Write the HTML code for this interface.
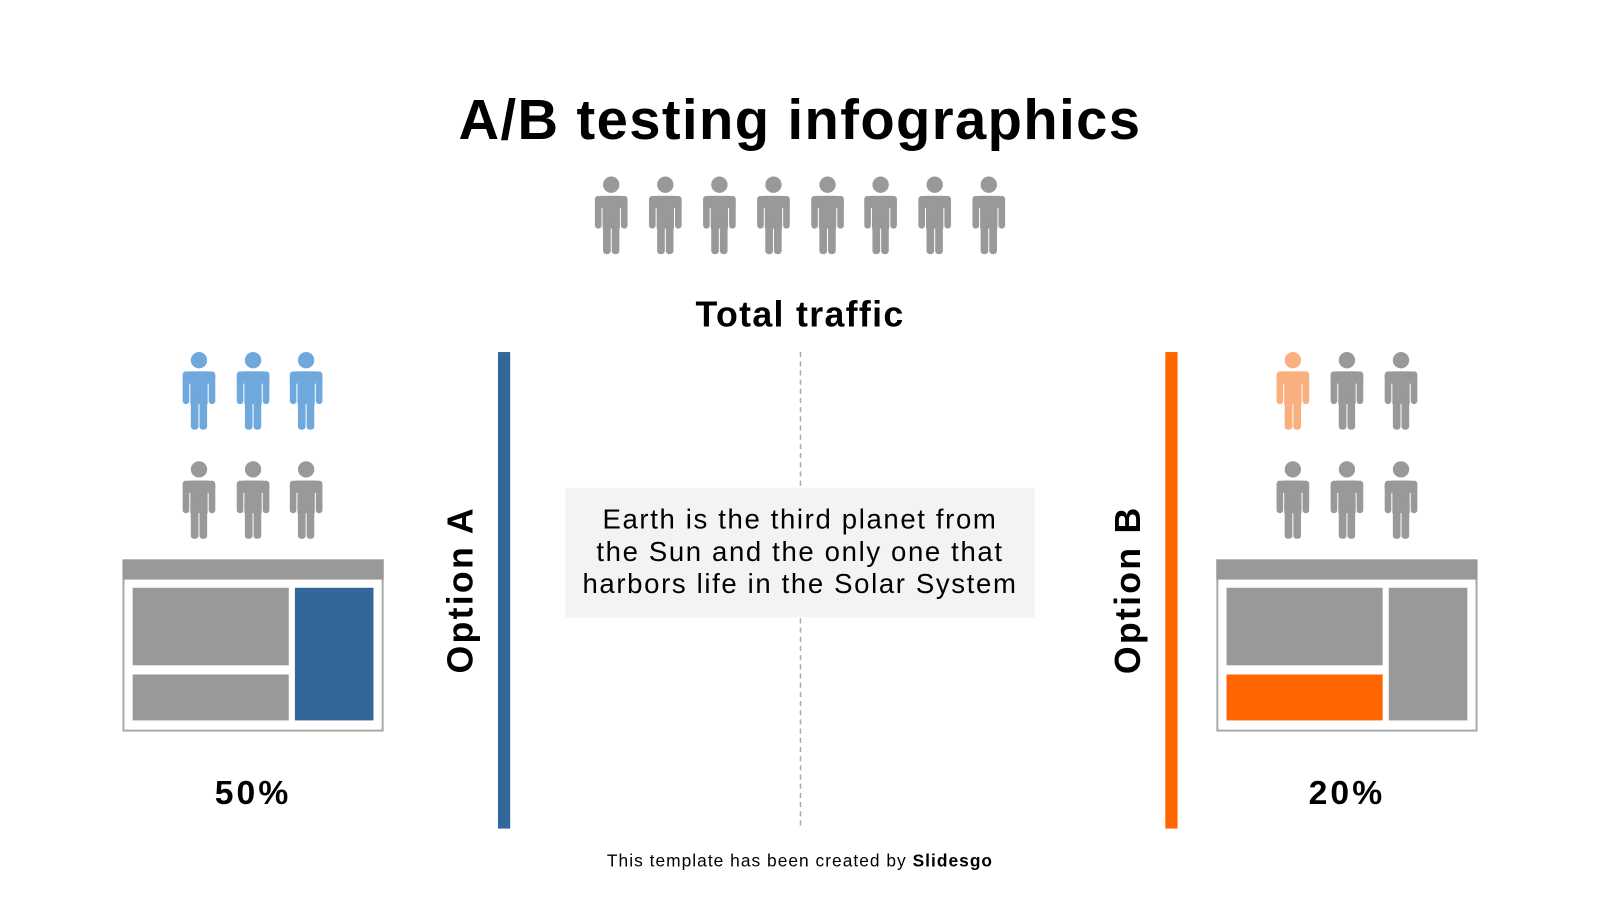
<!DOCTYPE html>
<html><head><meta charset="utf-8"><style>
body{margin:0;width:1600px;height:900px;background:#fff;position:relative;overflow:hidden;font-family:"Liberation Sans",sans-serif;color:#000}
#w{position:absolute;left:0;top:0;width:1568px;height:882px;transform:scale(1.020408);transform-origin:0 0}
.a{position:absolute}
.t{position:absolute;white-space:nowrap;text-align:center}
</style></head><body>
<svg width="0" height="0" style="position:absolute"><defs>
<g id="p"><circle cx="17" cy="8" r="8"/><rect x="1" y="19" width="32" height="12" rx="6"/><rect x="1" y="19" width="6.5" height="32" rx="3.2"/><rect x="26.5" y="19" width="6.5" height="32" rx="3.2"/><rect x="8.5" y="19" width="17" height="32"/><rect x="9" y="40" width="7.5" height="36" rx="3"/><rect x="17.5" y="40" width="7.5" height="36" rx="3"/></g>
</defs></svg>
<div id="w">
<div class="t" style="left:0;width:1568px;top:85px;font-size:55px;font-weight:bold;letter-spacing:1.4px">A/B testing infographics</div>
<svg class="a" style="left:0;top:0" width="1568" height="882">
<g fill="#999">
<use href="#p" x="582" y="173"/><use href="#p" x="635" y="173"/><use href="#p" x="688" y="173"/><use href="#p" x="741" y="173"/><use href="#p" x="794" y="173"/><use href="#p" x="846" y="173"/><use href="#p" x="899" y="173"/><use href="#p" x="952" y="173"/>
<use href="#p" x="178" y="452"/><use href="#p" x="231" y="452"/><use href="#p" x="283" y="452"/>
<use href="#p" x="1303" y="345"/><use href="#p" x="1356" y="345"/>
<use href="#p" x="1250" y="452"/><use href="#p" x="1303" y="452"/><use href="#p" x="1356" y="452"/>
</g>
<g fill="#6fa8dc"><use href="#p" x="178" y="345"/><use href="#p" x="231" y="345"/><use href="#p" x="283" y="345"/></g>
<use href="#p" x="1250" y="345" fill="#f9b07e"/>
<rect x="121" y="549" width="254" height="167" fill="#fff" stroke="#aaa" stroke-width="2"/>
<rect x="120" y="549" width="256" height="19" fill="#999"/>
<rect x="130" y="576" width="153" height="76" fill="#999"/>
<rect x="130" y="661" width="153" height="45" fill="#999"/>
<rect x="289" y="576" width="77" height="130" fill="#336699"/>
<rect x="1193" y="549" width="254" height="167" fill="#fff" stroke="#aaa" stroke-width="2"/>
<rect x="1192" y="549" width="256" height="19" fill="#999"/>
<rect x="1202" y="576" width="153" height="76" fill="#999"/>
<rect x="1202" y="661" width="153" height="45" fill="#ff6600"/>
<rect x="1361" y="576" width="77" height="130" fill="#999"/>
<rect x="488" y="345" width="12" height="467" fill="#336699"/>
<rect x="1142" y="345" width="12" height="467" fill="#ff6600"/>
<line x1="784.5" y1="345" x2="784.5" y2="812" stroke="#aaa" stroke-width="1.5" stroke-dasharray="5,4"/>
<rect x="554" y="478" width="460" height="127" fill="#f3f3f3"/>
</svg>
<div class="t" style="left:584px;width:400px;top:289px;font-size:35px;font-weight:bold;letter-spacing:1.3px">Total traffic</div>
<div class="t" style="left:534px;width:500px;top:494px;font-size:27px;line-height:31.5px;letter-spacing:1.6px">Earth is the third planet from<br>the Sun and the only one that<br>harbors life in the Solar System</div>
<div class="t" style="left:352px;width:200px;top:558px;font-size:35px;font-weight:bold;letter-spacing:2.2px;transform:rotate(-90deg)">Option A</div>
<div class="t" style="left:1006px;width:200px;top:558px;font-size:35px;font-weight:bold;letter-spacing:2.2px;transform:rotate(-90deg)">Option B</div>
<div class="t" style="left:148px;width:200px;top:758px;font-size:33px;font-weight:bold;letter-spacing:3px">50%</div>
<div class="t" style="left:1220px;width:200px;top:758px;font-size:33px;font-weight:bold;letter-spacing:3px">20%</div>
<div class="t" style="left:484px;width:600px;top:834px;font-size:17px;letter-spacing:1px">This template has been created by <b>Slidesgo</b></div>
</div>
</body></html>
